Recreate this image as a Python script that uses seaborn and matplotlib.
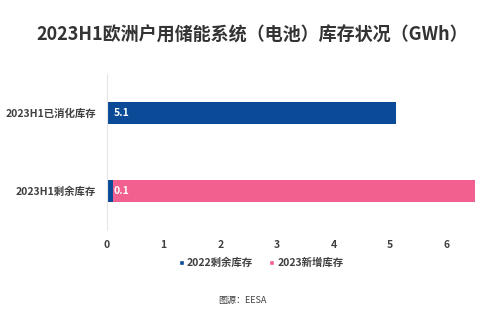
import matplotlib
matplotlib.use("Agg")
import matplotlib.pyplot as plt
import seaborn as sns
import pandas as pd
from matplotlib.patches import Patch

categories = ["2023H1已消化库存", "2023H1剩余库存"]
remaining_2022 = [5.1, 0.1]
new_2023 = [0.0, 6.4]
bar_labels = ["5.1", "0.1"]
series_names = ["2022剩余库存", "2023新增库存"]
x_ticks = [0, 1, 2, 3, 4, 5, 6]
title = "2023H1欧洲户用储能系统（电池）库存状况（GWh）"
source = "图源：EESA"

BLUE = "#0b4a97"
PINK = "#f2608f"

sns.set_theme(style="white")
plt.rcParams['font.family'] = ['Noto Sans CJK SC', 'DejaVu Sans']

df = pd.DataFrame({"cat": categories, "blue": remaining_2022, "pink": new_2023})
df["total"] = df["blue"] + df["pink"]

fig = plt.figure(figsize=(5.0, 3.29), dpi=100)
ax = fig.add_axes([0.214, 0.301, 0.742, 0.474])

sns.barplot(data=df, y="cat", x="total", color=PINK, orient="h", width=0.28,
            saturation=1, ax=ax, edgecolor="none")
sns.barplot(data=df, y="cat", x="blue", color=BLUE, orient="h", width=0.28,
            saturation=1, ax=ax, edgecolor="none")

for i, lab in enumerate(bar_labels):
    ax.annotate(lab, xy=(0, i), xytext=(5, 0), textcoords="offset points",
                ha="left", va="center", color="white", fontsize=7.5, fontweight="bold")

ax.set_xlim(0, 6.55)
ax.set_ylim(1.5, -0.5)
ax.set_xticks(x_ticks)
ax.set_xticklabels([str(t) for t in x_ticks], fontsize=7.5, color="#404040", fontweight="bold")
ax.tick_params(axis="y", labelsize=7.5, colors="#404040", length=0, pad=8)
ax.tick_params(axis="x", length=0, pad=7)
for lbl in ax.get_yticklabels():
    lbl.set_fontweight("bold")
ax.set_xlabel("")
ax.set_ylabel("")
for s in ["top", "right", "bottom"]:
    ax.spines[s].set_visible(False)
ax.spines["left"].set_color("#e6e6e6")
ax.spines["left"].set_linewidth(0.8)

handles = [Patch(facecolor=BLUE, label=series_names[0]),
           Patch(facecolor=PINK, label=series_names[1])]
leg = fig.legend(handles=handles, loc="center", bbox_to_anchor=(0.522, 1 - 263 / 329), ncol=2,
                 frameon=False, prop={"size": 7.5, "weight": "bold"}, handlelength=0.5,
                 handleheight=0.5, handletextpad=0.3, columnspacing=1.5, labelcolor="#404040")

fig.text(0.505, 1 - 35 / 329, title, ha="center", va="center", fontsize=13,
         fontweight="bold", color="#333333")
fig.text(0.485, 1 - 300 / 329, source, ha="center", va="center", fontsize=6.5,
         color="#404040")

fig.savefig("out.png", dpi=100, facecolor="white")
